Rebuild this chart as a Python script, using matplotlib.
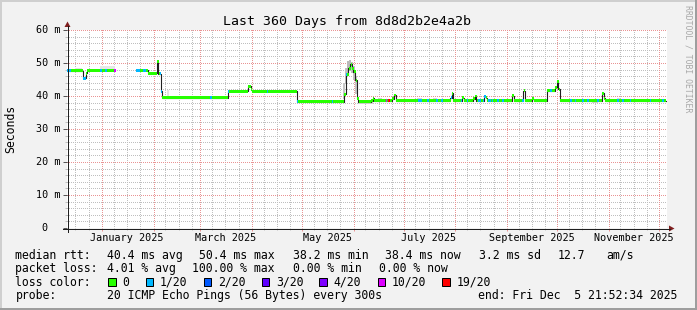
import datetime as dt
import numpy as np
import matplotlib
matplotlib.use("Agg")
import matplotlib.pyplot as plt
from matplotlib.patches import Rectangle, Polygon
from matplotlib.colors import to_rgba
from matplotlib.transforms import blended_transform_factory, offset_copy

# ---------------- data ----------------
TITLE = "Last 360 Days from 8d8d2b2e4a2b"
Y_LABEL = "Seconds"
END_TIME = dt.datetime(2025, 12, 5, 21, 52, 34)
SPAN_DAYS = 360
START_TIME = END_TIME - dt.timedelta(days=SPAN_DAYS)

y_ticks_ms = [0, 10, 20, 30, 40, 50, 60]
y_tick_labels = ["0", "10 m", "20 m", "30 m", "40 m", "50 m", "60 m"]
month_label_months = [(2025, 1), (2025, 3), (2025, 5), (2025, 7), (2025, 9), (2025, 11)]
minor_grid_mdays = [8, 16, 24]

nan = float("nan")
# median rtt (days since start, ms), step-post; nan = no data
med_day = [0.0, 9.4, 11.1, 12.0, 28.8, 41.4, 48.3, 54.0, 54.8, 56.1, 57.0, 96.3, 108.6,
           110.1, 111.0, 137.8, 166.2, 167.4, 168.8, 169.8, 170.8, 171.8, 172.8, 173.8,
           174.8, 182.4, 183.3, 184.2, 195.0, 195.9, 197.1, 229.8, 230.7, 231.6, 237.0,
           237.9, 243.6, 244.5, 245.4, 249.9, 251.1, 252.0, 267.0, 267.9, 273.6, 274.8,
           279.0, 279.9, 288.0, 292.8, 293.7, 294.6, 295.8, 321.0, 321.9, 322.8, 359.1]
med_ms = [47.7, 45.4, 46.9, 47.8, nan, 47.8, 46.9, 50.4, 46.7, 41.5, 39.4, 41.4, 42.9,
          41.9, 41.4, 38.3, 40.5, 46.4, 48.4, 49.6, 48.4, 47.4, 44.8, 39.3,
          38.3, 38.5, 39.3, 38.5, 39.2, 40.3, 38.6, 39.5, 40.8, 38.6, 39.4,
          38.6, 39.1, 40.0, 38.6, 39.8, 39.4, 38.6, 40.1, 38.6, 41.6, 38.6,
          39.2, 38.6, 41.6, 42.6, 44.4, 42.0, 38.6, 40.8, 39.3, 38.5, nan]

# packet loss periods (days since start) and loss bucket index
loss_start = [0.0, 9.6, 19.8, 22.8, 27.9, 41.4, 45.6, 55.8, 85.8, 96.6, 120.0, 138.0, 159.0,
              167.4, 191.1, 192.6, 210.6, 216.0, 220.8, 224.4, 229.8, 235.8, 240.0, 246.6,
              249.6, 252.6, 255.0, 258.0, 261.0, 267.6, 273.0, 289.8, 297.6, 301.8, 304.8,
              309.0, 312.0, 318.0, 330.0, 333.0, 337.8, 349.8, 357.0]
loss_end = [2.4, 11.1, 20.7, 24.0, 28.8, 43.8, 47.4, 56.7, 86.4, 97.2, 120.6, 138.6, 159.6,
            168.0, 192.0, 193.5, 213.0, 217.2, 222.6, 225.6, 230.4, 237.0, 240.6, 247.8,
            250.8, 253.8, 255.6, 258.6, 261.6, 268.2, 274.2, 291.0, 298.2, 303.0, 305.4,
            309.6, 312.6, 318.6, 330.6, 334.2, 338.4, 350.4, 357.6]
loss_level = [1, 1, 1, 1, 5, 1, 1, 1, 1, 1, 1, 1, 1,
              1, 5, 6, 1, 1, 1, 1, 1, 1, 1, 1,
              1, 1, 1, 1, 1, 1, 1, 1, 1, 1, 1,
              1, 1, 1, 1, 1, 1, 1, 1]

# smoke (rtt spread) puffs
smoke_start = [4.8, 12.6, 19.8, 54.0, 60.0, 165.6, 166.8, 168.0, 169.2, 170.4, 171.6, 172.8,
               174.6, 186.6, 210.0, 219.6, 315.0, 330.0, 345.0, 354.0]
smoke_end = [9.0, 19.2, 28.8, 55.2, 61.2, 166.8, 168.0, 169.2, 170.4, 171.6, 172.8, 174.0,
             183.6, 189.0, 213.0, 222.0, 318.6, 331.8, 346.2, 355.2]
smoke_lo = [47.5, 47.5, 47.5, 47.0, 39.4, 39.0, 43.5, 46.5, 47.5, 47.0, 45.0, 40.5,
            37.6, 38.6, 38.6, 38.6, 37.9, 38.6, 38.6, 38.6]
smoke_hi = [48.6, 48.3, 49.0, 51.0, 41.8, 44.0, 48.5, 50.5, 51.0, 50.3, 49.0, 46.0,
            38.3, 39.4, 39.4, 39.3, 38.6, 39.3, 39.2, 39.2]
smoke_density = [0.2, 0.12, 0.18, 0.4, 0.2, 0.4, 0.45, 0.5, 0.5, 0.45, 0.45, 0.4,
                 0.3, 0.35, 0.3, 0.3, 0.3, 0.25, 0.25, 0.25]

loss_names = ["0", "1/20", "2/20", "3/20", "4/20", "10/20", "19/20"]
loss_colors = ["#26ff00", "#00b8ff", "#0059ff", "#5e00ff", "#7e00ff", "#dd00ff", "#ff0000"]

row_labels = ["median rtt:", "packet loss:", "loss color:", "probe:"]
median_stats = ["40.4 ms avg", "50.4 ms max", "38.2 ms min", "38.4 ms now", "3.2 ms sd", "12.7", "am/s"]
loss_stats = ["4.01 % avg", "100.00 % max", "0.00 % min", "0.00 % now"]
probe_text = "20 ICMP Echo Pings (56 Bytes) every 300s"
end_text = "end: Fri Dec  5 21:52:34 2025"
watermark = "RRDTOOL / TOBI OETIKER"

# ---------------- layout / style ----------------
W, H = 697, 310
PL, PR, PT, PB = 67, 667, 30, 228
PW, PH = PR - PL, PB - PT
BG = "#f2f2f2"
GRID = "#bfbfbf"
MGRID = "#e99494"
AXIS = "#1f1f1f"
ARROW = "#801f1f"
FONT = "DejaVu Sans Mono"
FS = 8.3
AFS = 7.26
PX = 0.72  # one pixel in points

row_base = [258.8, 272.3, 285.8, 299.3]
median_x = [107.3, 200.0, 293.3, 386.0, 479.3, 558.3, 607.3]
loss_x = [107.3, 192.7, 293.3, 379.3]
swatch_x = [108.3, 145.7, 203.7, 261.7, 319.3, 377.7, 442.3]

plt.rcParams["font.family"] = [FONT, "DejaVu Sans"]

fig = plt.figure(figsize=(W / 100, H / 100), dpi=100, facecolor=BG)
bg = fig.add_axes([0, 0, 1, 1])
bg.set_xlim(0, W)
bg.set_ylim(H, 0)
bg.axis("off")
bg.set_facecolor(BG)

ax = fig.add_axes([PL / W, 1 - PB / H, PW / W, PH / H])
ax.set_facecolor("white")
for s in ax.spines.values():
    s.set_visible(False)


def days_of(t):
    return (t - START_TIME).total_seconds() / 86400.0


# month and minor grid positions
month_days, minor_days = [], []
y, m = START_TIME.year, START_TIME.month
for _ in range(14):
    for md_ in minor_grid_mdays:
        d = days_of(dt.datetime(y, m, md_))
        if 0 < d < SPAN_DAYS:
            minor_days.append(d)
    m += 1
    if m > 12:
        m, y = 1, y + 1
    d = days_of(dt.datetime(y, m, 1))
    if 0 < d < SPAN_DAYS:
        month_days.append(d)

minor_ms = [v for v in range(2, 60, 2) if v % 10]

# dotted grid rendered as a pixel raster (1 on / 1 off dots)
grid_img = np.zeros((PH, PW, 4))
gc = np.array(to_rgba(GRID))
mc = np.array(to_rgba(MGRID))


def col_of(d):
    return int(round(d / SPAN_DAYS * PW))


def row_of(v):
    return int(round((60 - v) / 60 * PH))


for v in minor_ms:
    grid_img[row_of(v), 0::2] = gc
for d in minor_days:
    grid_img[0::2, col_of(d)] = gc
for v in y_ticks_ms[1:]:
    grid_img[min(row_of(v), PH - 1), 0::2] = mc
for d in month_days:
    grid_img[0::2, col_of(d)] = mc
ax.imshow(grid_img, extent=(0, SPAN_DAYS, 0, 60), aspect="auto", interpolation="nearest",
          zorder=1)
ax.set_xlim(0, SPAN_DAYS)
ax.set_ylim(0, 60)

# ticks
ax.set_xticks(month_days)
ax.set_xticks(minor_days, minor=True)
ax.set_yticks(y_ticks_ms)
ax.set_yticks(minor_ms, minor=True)
ax.tick_params(axis="x", which="major", length=3 * PX, width=PX, color=MGRID, direction="out",
               labelbottom=False)
ax.tick_params(axis="x", which="minor", length=2 * PX, width=PX, color=GRID, direction="out")
ax.tick_params(axis="y", which="major", length=4 * PX, width=PX, color="#555555", direction="out",
               labelleft=False)
ax.tick_params(axis="y", which="minor", length=2 * PX, width=PX, color=GRID, direction="out")

# smoke
for s0, s1, lo, hi, den in zip(smoke_start, smoke_end, smoke_lo, smoke_hi, smoke_density):
    g = 1 - den * 0.55
    ax.bar(s0, hi - lo, width=s1 - s0, bottom=lo, align="edge", color=(g, g, g),
           linewidth=0, zorder=2)

# median line
ax.step(med_day, med_ms, where="post", color="#202020", lw=PX * 1.1, zorder=3)

# loss-coloured median band
md = np.array(med_day)
mv = np.array(med_ms)
xs = np.arange(0, SPAN_DAYS, 0.6)
vals = mv[np.clip(np.searchsorted(md, xs, side="right") - 1, 0, len(mv) - 1)]
lev = np.zeros(len(xs), dtype=int)
for a, b, l in zip(loss_start, loss_end, loss_level):
    lev[(xs >= a) & (xs < b)] = l
half = 0.45
ok = ~np.isnan(vals)
cols = [loss_colors[l] for l in lev[ok]]
ax.bar(xs[ok], 2 * half, width=0.6, bottom=vals[ok] - half, align="edge", color=cols,
       linewidth=0, antialiased=False, zorder=4)

# y tick labels
ytr = blended_transform_factory(ax.transAxes, ax.transData)
for v, lab in zip(y_ticks_ms, y_tick_labels):
    xoff = -7.0 if lab != "0" else -19.1
    ax.text(0, v, lab, transform=offset_copy(ytr, fig=fig, x=xoff, y=-3.4, units="dots"),
            ha="right", va="baseline", fontsize=AFS, color="black", clip_on=False)

# month labels
xtr = blended_transform_factory(ax.transData, ax.transAxes)
for (yy, mm) in month_label_months:
    d = days_of(dt.datetime(yy, mm, 1)) + 15
    lab = dt.datetime(yy, mm, 1).strftime("%B %Y")
    ax.text(d, 0, lab, transform=offset_copy(xtr, fig=fig, x=0, y=-12.8, units="dots"),
            ha="center", va="baseline", fontsize=AFS, color="black", clip_on=False)

# overlay: axes lines, arrows, border, texts
ov = fig.add_axes([0, 0, 1, 1], facecolor="none")
ov.set_xlim(0, W)
ov.set_ylim(H, 0)
ov.axis("off")
ov.plot([PL - 4, PR + 3], [PB + 0.5, PB + 0.5], color=AXIS, lw=PX, antialiased=False)
ov.plot([PL + 0.5, PL + 0.5], [PB + 4, PT - 4], color=AXIS, lw=PX, antialiased=False)
ov.add_patch(Polygon([[PL + 0.5, PT - 8.5], [PL - 2.5, PT - 3], [PL + 3.5, PT - 3]],
                     closed=True, color=ARROW, lw=0))
ov.add_patch(Polygon([[PR + 7.5, PB + 0.5], [PR + 2, PB - 2.5], [PR + 2, PB + 3.5]],
                     closed=True, color=ARROW, lw=0))
ov.add_patch(Rectangle((0, 0), W, 2, color="#cfcfcf", lw=0))
ov.add_patch(Rectangle((0, 0), 2, H, color="#cfcfcf", lw=0))
ov.add_patch(Rectangle((0, H - 2), W, 2, color="#9e9e9e", lw=0))
ov.add_patch(Rectangle((W - 2, 0), 2, H, color="#9e9e9e", lw=0))

ov.text(347.4, 25, TITLE, ha="center", va="baseline", fontsize=9.5, color="black")
ov.text(10.5, (PT + PB) / 2, Y_LABEL, rotation=90, ha="center", va="center", fontsize=FS,
        color="black")
ov.text(688, 5, watermark, rotation=270, ha="center", va="top", fontsize=5.9, color="#a8a8a8")

tx = 15.4
ov.text(tx, row_base[0], row_labels[0], ha="left", va="baseline", fontsize=FS)
for x, s in zip(median_x, median_stats):
    ov.text(x - 0.6, row_base[0], s, ha="left", va="baseline", fontsize=FS)
ov.text(tx, row_base[1], row_labels[1], ha="left", va="baseline", fontsize=FS)
for x, s in zip(loss_x, loss_stats):
    ov.text(x - 0.6, row_base[1], s, ha="left", va="baseline", fontsize=FS)
ov.text(tx, row_base[2], row_labels[2], ha="left", va="baseline", fontsize=FS)
for x, name, c in zip(swatch_x, loss_names, loss_colors):
    ov.add_patch(Rectangle((x, 277.7), 7.5, 8.6, facecolor=c, edgecolor="black", lw=PX))
    ov.text(x + 14.4, row_base[2], name, ha="left", va="baseline", fontsize=FS)
ov.text(tx, row_base[3], row_labels[3], ha="left", va="baseline", fontsize=FS)
ov.text(107.3 - 0.6, row_base[3], probe_text, ha="left", va="baseline", fontsize=FS)
ov.text(478.3 - 0.6, row_base[3], end_text, ha="left", va="baseline", fontsize=FS)

fig.savefig("out.png", dpi=100, facecolor=BG)
